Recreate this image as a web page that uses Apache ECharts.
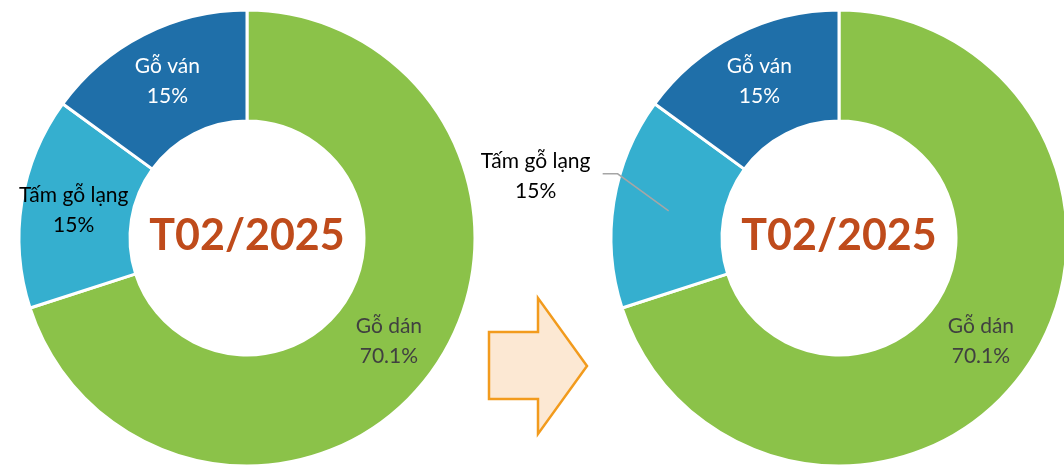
<!DOCTYPE html>
<html>
<head>
<meta charset="utf-8">
<script src="https://cdn.jsdelivr.net/npm/echarts@6/dist/echarts.min.js"></script>
<style>
  html, body { margin: 0; padding: 0; background: #fff; }
  #chart { width: 1064px; height: 465px; }
</style>
</head>
<body>
<div id="chart"></div>
<script>
// categories and shares (%)
var categories = ['Gỗ dán', 'Tấm gỗ lạng', 'Gỗ ván'];
var leftValues = [70.1, 15, 15];
var rightValues = [70.1, 15, 15];
var periodLabel = 'T02/2025';

var colors = ['#8BC249', '#35AFCF', '#1F6FA9'];
var labelColors = ['#404040', '#000000', '#ffffff'];
var FONT = 'Lato, "Open Sans", sans-serif';
var R_IN = 117, R_OUT = 228;

var chart = echarts.init(document.getElementById('chart'));

var labelBase = {
  show: true,
  position: 'inside',
  formatter: '{b}\n{c}%',
  fontFamily: FONT,
  fontSize: 21,
  lineHeight: 30,
  align: 'center'
};

function buildData(values, hiddenIdx) {
  return categories.map(function (name, i) {
    return {
      name: name,
      value: values[i],
      itemStyle: { color: colors[i] },
      label: { color: labelColors[i], show: i !== hiddenIdx }
    };
  });
}

function pieSeries(center, values, hiddenIdx) {
  return {
    type: 'pie',
    center: center,
    radius: [R_IN, R_OUT],
    startAngle: 90,
    clockwise: true,
    silent: true,
    animation: false,
    itemStyle: { borderColor: '#ffffff', borderWidth: 3 },
    label: labelBase,
    labelLine: { show: false },
    data: buildData(values, hiddenIdx)
  };
}

// transparent copy of the right ring, on top, carrying the callout label
var calloutSeries = {
  type: 'pie',
  z: 5,
  center: [839, 238],
  radius: [R_IN, R_OUT],
  startAngle: 90,
  clockwise: true,
  silent: true,
  animation: false,
  itemStyle: { color: 'rgba(0,0,0,0)', borderWidth: 0 },
  label: { show: false },
  labelLine: { show: false },
  data: categories.map(function (name, i) {
    var item = { name: name, value: rightValues[i] };
    if (i === 1) {
      item.label = Object.assign({}, labelBase, { position: 'outside', color: '#000000' });
      item.labelLine = {
        show: true, length: 20, length2: 15,
        lineStyle: { color: '#A6A6A6', width: 1.5 }
      };
    }
    return item;
  }),
  labelLayout: function (params) {
    if (params.dataIndex !== 1 || !params.labelLinePoints) return {};
    var p0 = params.labelLinePoints[0];
    var p1 = params.labelLinePoints[1];
    var dx = p1[0] - p0[0], dy = p1[1] - p0[1];
    var len = Math.sqrt(dx * dx + dy * dy) || 1;
    var half = (R_OUT - R_IN) / 2;
    var a = [p0[0] - dx / len * half, p0[1] - dy / len * half];
    return {
      x: a[0] - 133,
      y: a[1] - 35,
      align: 'center',
      verticalAlign: 'middle',
      labelLinePoints: [a, [a[0] - 51, a[1] - 37], [a[0] - 66, a[1] - 37]]
    };
  }
};

chart.setOption({
  backgroundColor: '#ffffff',
  series: [
    pieSeries([247, 238], leftValues, -1),
    pieSeries([839, 238], rightValues, 1),
    calloutSeries
  ],
  graphic: [
    {
      type: 'text', x: 247, y: 236, silent: true,
      style: {
        text: periodLabel, fill: '#BF4B1B', font: 'bold 43px ' + FONT,
        align: 'center', verticalAlign: 'middle'
      }
    },
    {
      type: 'text', x: 839, y: 236, silent: true,
      style: {
        text: periodLabel, fill: '#BF4B1B', font: 'bold 43px ' + FONT,
        align: 'center', verticalAlign: 'middle'
      }
    },
    {
      type: 'polygon', silent: true,
      shape: {
        points: [[489, 332], [538, 332], [538, 298], [587, 366], [538, 434], [538, 399], [489, 399]]
      },
      style: { fill: '#FCE8D3', stroke: '#F29B1D', lineWidth: 2.5 }
    }
  ]
});
</script>
</body>
</html>
